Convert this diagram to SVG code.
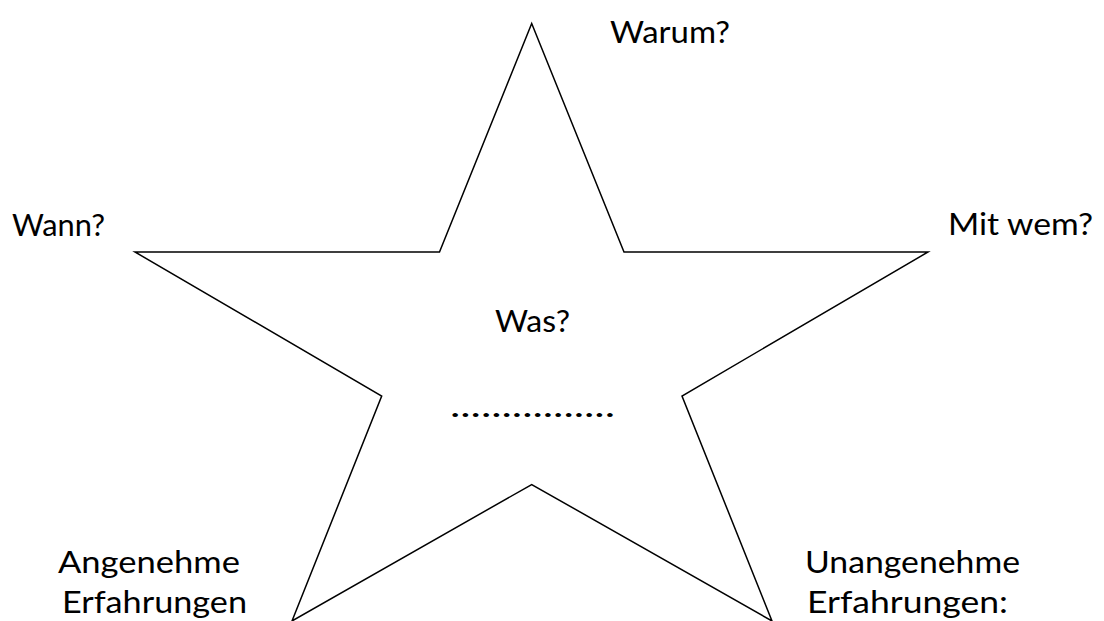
<svg xmlns="http://www.w3.org/2000/svg" width="1104" height="621" viewBox="0 0 1104 621">
<style>
.lbl{font-family:"Lato","Liberation Sans",sans-serif;font-size:30px;fill:#000}
.star{fill:#fff;stroke:#000;stroke-width:1.5;stroke-linejoin:miter}
</style>
<rect width="1104" height="621" fill="#fff"/>
<g id="star">
<polygon class="star" points="531.7,23.5 624,252 928,252 682,396 772,621 531.7,484.5 292,621 381.7,396 135,252 439.5,252"/>
</g>
<g id="connectors"/>
<g id="label-warum"><text class="lbl" x="610" y="43" textLength="120" lengthAdjust="spacingAndGlyphs">Warum?</text></g>
<g id="label-wann"><text class="lbl" x="12" y="236" textLength="93" lengthAdjust="spacingAndGlyphs">Wann?</text></g>
<g id="label-mitwem"><text class="lbl" x="948" y="235" textLength="145" lengthAdjust="spacingAndGlyphs">Mit wem?</text></g>
<g id="label-was"><text class="lbl" x="495" y="332" textLength="75" lengthAdjust="spacingAndGlyphs">Was?</text>
<text class="lbl" x="450" y="417" textLength="165" lengthAdjust="spacingAndGlyphs">................</text></g>
<g id="label-angenehm"><text class="lbl" x="58" y="573" textLength="182" lengthAdjust="spacingAndGlyphs">Angenehme</text>
<text class="lbl" x="62" y="613" textLength="185" lengthAdjust="spacingAndGlyphs">Erfahrungen</text></g>
<g id="label-unangenehm"><text class="lbl" x="805" y="573" textLength="215" lengthAdjust="spacingAndGlyphs">Unangenehme</text>
<text class="lbl" x="807" y="613" textLength="201" lengthAdjust="spacingAndGlyphs">Erfahrungen:</text></g>
</svg>
